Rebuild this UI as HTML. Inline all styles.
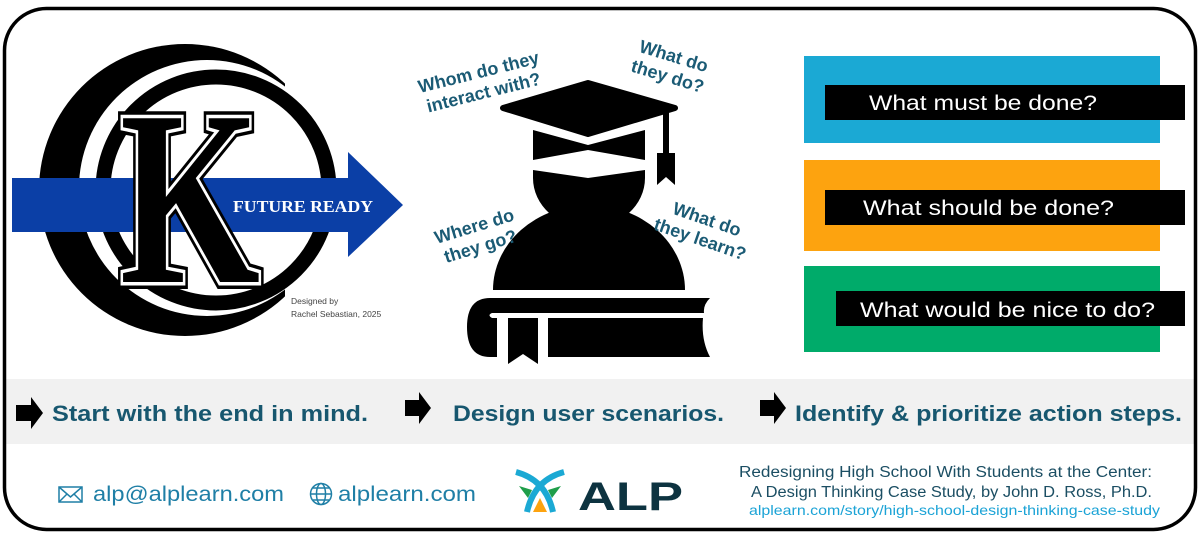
<!DOCTYPE html>
<html><head><meta charset="utf-8"><style>
html,body{margin:0;padding:0;background:#fff;}
svg{display:block;}
</style></head><body>
<svg width="1200" height="539" viewBox="0 0 1200 539" xmlns="http://www.w3.org/2000/svg">
<defs>
<mask id="cres">
<rect x="0" y="0" width="420" height="360" fill="#fff"/>
<circle cx="207" cy="188" r="128" fill="#000"/>
<rect x="285" y="0" width="200" height="360" fill="#000"/>
</mask>
</defs>
<rect x="0" y="0" width="1200" height="539" fill="#fff"/>
<rect x="5" y="379" width="1190" height="65" fill="#f1f1f1"/>
<rect x="4.5" y="8.5" width="1191" height="521" rx="42" ry="42" fill="none" stroke="#000" stroke-width="3.5"/>

<!-- Logo -->
<circle cx="185" cy="190" r="146" fill="#000" mask="url(#cres)"/>
<circle cx="216" cy="190" r="113" fill="none" stroke="#000" stroke-width="15"/>
<rect x="12" y="178" width="340" height="54" fill="#0b3fa6"/>
<polygon points="348,152 403,205 348,257" fill="#0b3fa6"/>
<text x="233" y="212" font-family="Liberation Serif, serif" font-weight="bold" font-size="17" fill="#fff" textLength="140" lengthAdjust="spacingAndGlyphs">FUTURE READY</text>
<g transform="translate(190,282) scale(0.72,1)">
<text x="0" y="0" text-anchor="middle" font-family="Liberation Serif, serif" font-weight="bold" font-size="250" fill="#000" stroke="#000" stroke-width="14" stroke-linejoin="miter">K</text>
<text x="0" y="0" text-anchor="middle" font-family="Liberation Serif, serif" font-weight="bold" font-size="250" fill="#000" stroke="#fff" stroke-width="7" stroke-linejoin="miter">K</text>
<text x="0" y="0" text-anchor="middle" font-family="Liberation Serif, serif" font-weight="bold" font-size="250" fill="#000">K</text>
</g>
<text x="291" y="304" font-family="Liberation Sans, sans-serif" font-size="8.5" fill="#444">Designed by</text>
<text x="291" y="317" font-family="Liberation Sans, sans-serif" font-size="8.5" fill="#444">Rachel Sebastian, 2025</text>

<!-- Graduate icon -->
<polygon points="503,108 588,83 675,108 588,134" fill="#000" stroke="#000" stroke-width="6" stroke-linejoin="round"/>
<rect x="663" y="108" width="6" height="45" fill="#000"/>
<polygon points="657,153 675,153 675,185 666,177 657,185" fill="#000"/>
<polygon points="533,130 588,145 645,130 645,160 588,150 533,160" fill="#000"/>
<path d="M533,170 L588,178 L645,170 L645,178 A56,50 0 0 1 533,178 Z" fill="#000"/>
<path d="M493,290 A96,85 0 0 1 685,290 Z" fill="#000"/>
<path d="M710,298 L490,298 Q467,298 467,327 Q467,357 490,357 L497,357 L497,318 L492,318 Q487,315 492,313 L704,313 Q703,305 710,298 Z" fill="#000"/>
<path d="M548,318 L703,318 Q701,340 710,357 L548,357 Z" fill="#000"/>
<polygon points="508,318 538,318 538,364 523,354 508,364" fill="#000"/>

<!-- rotated labels -->
<g font-family="Liberation Sans, sans-serif" font-weight="bold" font-size="18" fill="#1b5b75" text-anchor="middle">
<g transform="translate(480,78) rotate(-14)"><text x="0" y="0">Whom do they</text><text x="0" y="21">interact with?</text></g>
<g transform="translate(672,62) rotate(17)"><text x="0" y="0">What do</text><text x="0" y="21">they do?</text></g>
<g transform="translate(476,232) rotate(-17)"><text x="0" y="0">Where do</text><text x="0" y="21">they go?</text></g>
<g transform="translate(705,225) rotate(19)"><text x="0" y="0">What do</text><text x="0" y="21">they learn?</text></g>
</g>

<!-- colored boxes -->
<rect x="804" y="56" width="356" height="87" fill="#1ba9d4"/>
<rect x="804" y="160" width="356" height="91" fill="#fda30f"/>
<rect x="804" y="266" width="356" height="86" fill="#00ab6a"/>
<rect x="825" y="85" width="360" height="35" fill="#000"/>
<rect x="825" y="190" width="360" height="35" fill="#000"/>
<rect x="836" y="291" width="349" height="35" fill="#000"/>
<g font-family="Liberation Sans, sans-serif" font-size="21" fill="#fff">
<text x="869" y="110" textLength="228" lengthAdjust="spacingAndGlyphs">What must be done?</text>
<text x="863" y="215" textLength="251" lengthAdjust="spacingAndGlyphs">What should be done?</text>
<text x="860" y="317" textLength="295" lengthAdjust="spacingAndGlyphs">What would be nice to do?</text>
</g>

<!-- action row -->
<g fill="#000">
<polygon points="16,405 31,405 31,397 43,413 31,429 31,421 16,421"/>
<polygon points="405,400 419,400 419,392 431,408 419,424 419,416 405,416"/>
<polygon points="760,400 774,400 774,392 786,408 774,424 774,416 760,416"/>
</g>
<g font-family="Liberation Sans, sans-serif" font-weight="bold" font-size="22" fill="#17576f">
<text x="52" y="421" textLength="316" lengthAdjust="spacingAndGlyphs">Start with the end in mind.</text>
<text x="453" y="421" textLength="271" lengthAdjust="spacingAndGlyphs">Design user scenarios.</text>
<text x="795" y="421" textLength="387" lengthAdjust="spacingAndGlyphs">Identify &amp; prioritize action steps.</text>
</g>

<!-- footer -->
<g stroke="#1f7fa6" stroke-width="1.5" fill="none">
<rect x="59" y="487" width="23" height="15"/>
<polyline points="59,487 70.5,497 82,487"/>
<line x1="59" y1="502" x2="67" y2="494"/><line x1="82" y1="502" x2="74" y2="494"/>
<circle cx="321" cy="494" r="10.5"/>
<ellipse cx="321" cy="494" rx="4.5" ry="10.5"/>
<line x1="310.5" y1="494" x2="331.5" y2="494"/>
<line x1="313" y1="488" x2="329" y2="488"/><line x1="313" y1="500" x2="329" y2="500"/>
</g>
<g font-family="Liberation Sans, sans-serif" font-size="21" fill="#1f7fa6">
<text x="93" y="501" textLength="191" lengthAdjust="spacingAndGlyphs">alp@alplearn.com</text>
<text x="338" y="501" textLength="138" lengthAdjust="spacingAndGlyphs">alplearn.com</text>
</g>
<!-- ALP logo -->
<g fill="none" stroke="#1ba9d4" stroke-width="6">
<path d="M516,472 Q546,480 553,512"/>
<path d="M564,472 Q534,480 527,512"/>
</g>
<polygon points="519,486 532,490 528,498" fill="#1f9e4a"/>
<polygon points="561,486 548,490 552,498" fill="#1f9e4a"/>
<polygon points="533,512 540,498 547,512" fill="#fda30f"/>
<text x="578" y="510" font-family="Liberation Sans, sans-serif" font-weight="bold" font-size="40" fill="#0d3340" textLength="105" lengthAdjust="spacingAndGlyphs">ALP</text>
<g font-family="Liberation Sans, sans-serif" font-size="15.5" text-anchor="end">
<text x="1152" y="477" fill="#1b4e63" textLength="413" lengthAdjust="spacingAndGlyphs">Redesigning High School With Students at the Center:</text>
<text x="1152" y="497" fill="#1b4e63" textLength="401" lengthAdjust="spacingAndGlyphs">A Design Thinking Case Study, by John D. Ross, Ph.D.</text>
<text x="1160" y="515" fill="#1ba3d6" font-size="14" textLength="411" lengthAdjust="spacingAndGlyphs">alplearn.com/story/high-school-design-thinking-case-study</text>
</g>
</svg>
</body></html>
